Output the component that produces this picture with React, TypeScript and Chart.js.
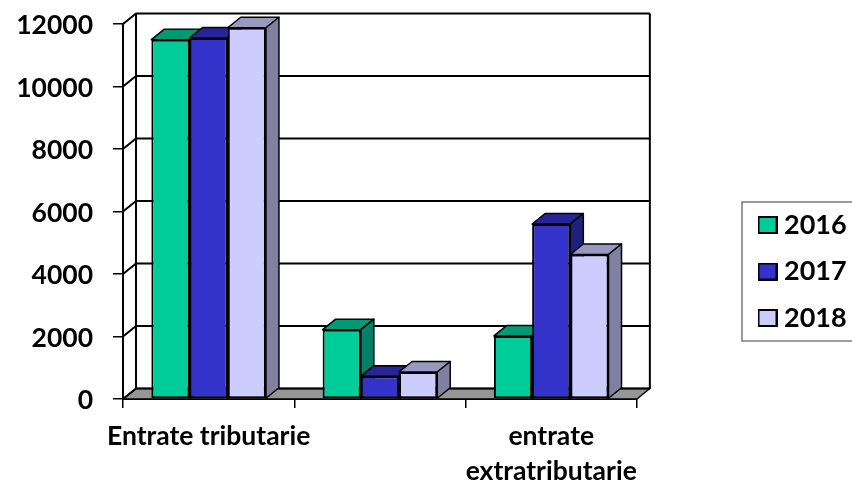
import React, { useEffect, useRef } from "react";
import { Chart, registerables } from "chart.js";

Chart.register(...registerables);

const categories: (string | string[])[] = ["Entrate tributarie", "", ["entrate", "extratributarie"]];
const series2016 = [11500, 2220, 2020];
const series2017 = [11550, 730, 5600];
const series2018 = [11880, 865, 4625];
const seriesNames = ["2016", "2017", "2018"];
const faceColors = ["#00CC99", "#3333CC", "#CCCCFF"];
const topColors = ["#009973", "#262699", "#9999BF"];
const sideColors = ["#008066", "#20207F", "#8080A0"];

const DX = 13;
const DY = 10.5;
const FONT = "Lato, Carlito, Calibri, sans-serif";

function poly(ctx: CanvasRenderingContext2D, pts: number[][], fill: string | null, lw = 1.5) {
  ctx.beginPath();
  pts.forEach((p, i) => (i ? ctx.lineTo(p[0], p[1]) : ctx.moveTo(p[0], p[1])));
  ctx.closePath();
  if (fill) {
    ctx.fillStyle = fill;
    ctx.fill();
  }
  ctx.lineWidth = lw;
  ctx.strokeStyle = "#000";
  ctx.stroke();
}

function swatch(color: string) {
  const c = document.createElement("canvas");
  c.width = 20;
  c.height = 18;
  const g = c.getContext("2d")!;
  g.fillStyle = color;
  g.fillRect(0, 0, 20, 18);
  g.strokeStyle = "#000";
  g.lineWidth = 2;
  g.strokeRect(1, 1, 18, 16);
  return c;
}

const threeD = {
  id: "threeD",
  afterLayout(chart: any) {
    const l = chart.legend;
    const w = l.right - l.left;
    l.left = 745;
    l.right = 745 + w;
    l.top = 192;
    l.bottom = 480;
  },
  beforeDraw(chart: any) {
    const ctx = chart.ctx as CanvasRenderingContext2D;
    ctx.save();
    ctx.fillStyle = "#fff";
    ctx.fillRect(0, 0, chart.width, chart.height);
    ctx.strokeStyle = "#5A5A5A";
    ctx.lineWidth = 1.2;
    ctx.strokeRect(742, 202, 120, 139);
    ctx.restore();
  },
  beforeDatasetsDraw(chart: any) {
    const ctx = chart.ctx as CanvasRenderingContext2D;
    const { x, y } = chart.scales;
    const { left, right, top, bottom } = chart.chartArea;
    ctx.save();
    ctx.lineJoin = "round";
    poly(ctx, [[left, bottom], [left + DX, bottom - DY], [right + DX, bottom - DY], [right, bottom]], "#969696", 1.5);
    ctx.strokeStyle = "#000";
    ctx.lineWidth = 2;
    y.ticks.forEach((t: any) => {
      const py = y.getPixelForValue(t.value);
      ctx.beginPath();
      ctx.moveTo(left, py);
      ctx.lineTo(left + DX, py - DY);
      ctx.lineTo(right + DX, py - DY);
      ctx.stroke();
    });
    ctx.beginPath();
    ctx.moveTo(left + DX, top - DY);
    ctx.lineTo(left + DX, bottom - DY);
    ctx.moveTo(right + DX, top - DY);
    ctx.lineTo(right + DX, bottom - DY);
    ctx.stroke();
    for (let c = 0; c < x.ticks.length; c++) {
      chart.data.datasets.forEach((_: any, d: number) => {
        const b = chart.getDatasetMeta(d).data[c];
        if (!b) return;
        const l = b.x - b.width / 2;
        const r = b.x + b.width / 2;
        poly(ctx, [[l, b.y], [l + DX, b.y - DY], [r + DX, b.y - DY], [r, b.y]], topColors[d]);
        poly(ctx, [[r, b.y], [r + DX, b.y - DY], [r + DX, b.base - DY], [r, b.base]], sideColors[d]);
      });
    }
    ctx.restore();
  },
};

export default function App() {
  const ref = useRef<HTMLCanvasElement>(null);
  useEffect(() => {
    document.body.style.margin = "0";
    const seriesValues = [series2016, series2017, series2018];
    const chart = new Chart(ref.current!, {
      type: "bar",
      plugins: [threeD],
      data: {
        labels: categories as any,
        datasets: seriesNames.map((name, i) => ({
          label: name,
          data: seriesValues[i],
          backgroundColor: faceColors[i],
          borderColor: "#000",
          borderWidth: 2,
          borderSkipped: false,
          categoryPercentage: 0.669,
          barPercentage: 1,
          pointStyle: swatch(faceColors[i]),
          clip: false as any,
        })),
      },
      options: {
        responsive: false,
        animation: false,
        layout: { padding: { top: 24, right: 103.5, left: 0, bottom: 0 } },
        plugins: {
          tooltip: { enabled: false },
          legend: {
            position: "right",
            align: "start",
            labels: {
              usePointStyle: true,
              pointStyleWidth: 6,
              boxHeight: 18,
              padding: 19.5,
              color: "#000",
              font: { family: FONT, size: 27, weight: "bold" },
            },
          },
        },
        scales: {
          x: {
            offset: true,
            afterFit: (s: any) => {
              s.height = 81;
            },
            border: { display: true, color: "#000", width: 2 },
            grid: { offset: true, drawOnChartArea: false, drawTicks: true, tickLength: 9, color: "#000", lineWidth: 1.5 },
            ticks: {
              autoSkip: false,
              maxRotation: 0,
              padding: 11,
              color: "#000",
              font: { family: FONT, size: 26.5, weight: "bold", lineHeight: 1.32 },
            },
          },
          y: {
            min: 0,
            max: 12000,
            afterFit: (s: any) => {
              s.width = 123;
              s.paddingTop = 0;
              s.paddingBottom = 0;
            },
            border: { display: true, color: "#000", width: 2 },
            grid: { drawOnChartArea: false, drawTicks: true, tickLength: 10, color: "#000", lineWidth: 1.5 },
            ticks: {
              stepSize: 2000,
              padding: 20,
              labelOffset: 1.5,
              color: "#000",
              callback: (v: any) => String(v),
              font: { family: FONT, size: 26.5, weight: "bold" },
            },
          },
        },
      },
    } as any);
    return () => chart.destroy();
  }, []);
  return <canvas ref={ref} width={852} height={480} style={{ display: "block" }} />;
}
